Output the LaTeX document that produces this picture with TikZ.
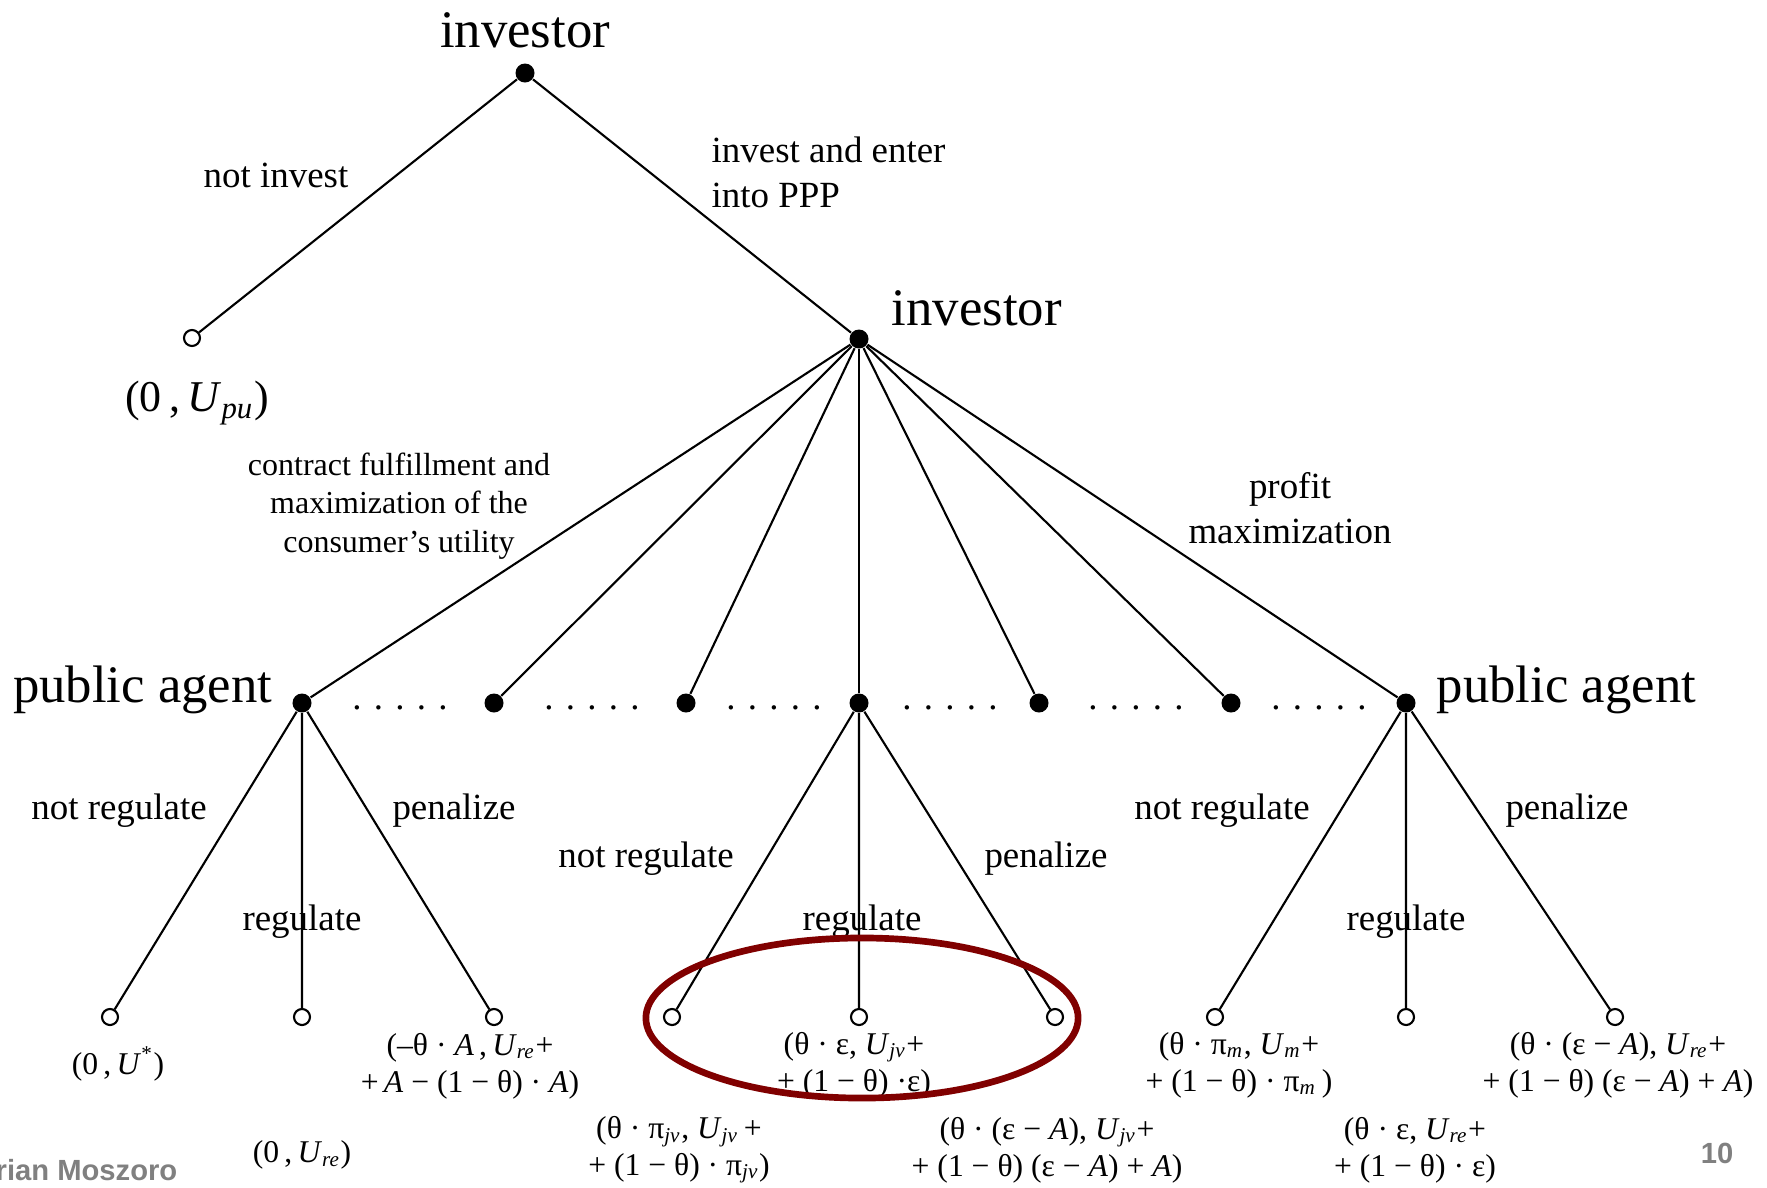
\documentclass[tikz,border=0pt]{standalone}
\usepackage{fontspec}
\setmainfont{Liberation Serif}
\newfontfamily\footfont{Liberation Sans}

\definecolor{ellred}{RGB}{128,0,0}
\definecolor{footgray}{RGB}{128,128,128}

\tikzset{
  decision/.style={circle, fill=black, inner sep=0pt, minimum size=0.19cm},
  terminal/.style={circle, draw=black, fill=white, line width=0.6pt, inner sep=0pt, minimum size=0.16cm},
  player/.style={font=\fontsize{15}{18}\selectfont, inner sep=0pt},
  move/.style={font=\fontsize{10.5}{12.8}\selectfont, align=center, inner sep=0pt},
  payoff/.style={font=\fontsize{9}{10.4}\selectfont, align=center, inner sep=0pt},
  branch/.style={line width=0.6pt},
}

\begin{document}
\begin{tikzpicture}[x=0.01cm, y=-0.01cm]
  \useasboundingbox (0,0) rectangle (1767,1187);

  % Draw the decision nodes of the investor
  \node[decision] (root) at (525,73) {};
  \node[decision] (ppp) at (859,339) {};
  \node[terminal] (noinv) at (192,338) {};

  % Draw the nodes of the public agent
  \foreach \i/\x in {1/302, 2/494, 3/686, 4/859, 5/1039, 6/1231, 7/1406}
    \node[decision] (pa\i) at (\x,703) {};

  % Draw the terminal nodes
  \foreach \name/\x in {l1/110, l2/302, l3/494, m1/672, m2/859, m3/1055, r1/1215, r2/1406, r3/1615}
    \node[terminal] (\name) at (\x,1017) {};

  % Draw the branches
  \draw[branch] (root) -- (noinv);
  \draw[branch] (root) -- (ppp);
  \foreach \i in {1,...,7}
    \draw[branch] (ppp) -- (pa\i);
  \draw[branch] (l1) -- (pa1) -- (l2);
  \draw[branch] (pa1) -- (l3);
  \draw[branch] (m1) -- (pa4) -- (m2);
  \draw[branch] (pa4) -- (m3);
  \draw[branch] (r1) -- (pa7) -- (r2);
  \draw[branch] (pa7) -- (r3);

  % Players
  \node[player] (invtop) at (525,30) {investor};
  \node[player, anchor=west] (invmid) at (891,308) {investor};
  \node[player, anchor=east] (publeft) at (273,690) {public agent};
  \node[player, anchor=west] (pubright) at (1436,690) {public agent};

  % Moves
  \node[move] (notinv) at (276,175) {not invest};
  \node[move, align=left, anchor=west] (enter) at (711,172) {invest and enter\\into PPP};
  \node[move, font=\fontsize{9.1}{11}\selectfont] (contract) at (399,506)
    {contract fulfillment and\\maximization of the\\consumer's utility};
  \node[move] (profit) at (1290,508) {profit\\maximization};
  \foreach \x in {400,592,774,950,1136,1319}
    \node[move] (gap\x) at (\x,708) {. . . . .};

  \node[move] (nr1) at (119,811) {not regulate};
  \node[move] (rg1) at (302,922) {regulate};
  \node[move] (pe1) at (454,811) {penalize};
  \node[move] (nr2) at (646,859) {not regulate};
  \node[move] (rg2) at (862,922) {regulate};
  \node[move] (pe2) at (1046,859) {penalize};
  \node[move] (nr3) at (1222,811) {not regulate};
  \node[move] (rg3) at (1406,922) {regulate};
  \node[move] (pe3) at (1567,811) {penalize};

  % Payoffs
  \node[payoff, font=\fontsize{12.5}{15}\selectfont] (pnoinv) at (197,403)
    {(0\,,\,\textit{U}\textsubscript{\textit{pu}})};
  \node[payoff] (pl1) at (118,1064) {(0\,,\,\textit{U}\textsuperscript{*})};
  \node[payoff] (pl2) at (302,1155) {(0\,,\,\textit{U}\textsubscript{\textit{re}})};
  \node[payoff] (pl3) at (470,1066)
    {(–θ · \textit{A}\,,\,\textit{U}\textsubscript{\textit{re}}+\\+\,\textit{A} − (1 − θ) · \textit{A})};
  \node[payoff] (pm1) at (679,1150)
    {(θ · π\textsubscript{\textit{jv}}, \textit{U}\textsubscript{\textit{jv}}\,+\\+ (1 − θ) · π\textsubscript{\textit{jv}})};
  \node[payoff] (pm2) at (854,1065)
    {(θ · ε, \textit{U}\textsubscript{\textit{jv}}+\\+ (1 − θ) ·ε)};
  \node[payoff] (pm3) at (1047,1150)
    {(θ · (ε − \textit{A}), \textit{U}\textsubscript{\textit{jv}}+\\+ (1 − θ) (ε − \textit{A}) + \textit{A})};
  \node[payoff] (pr1) at (1239,1065)
    {(θ · π\textsubscript{\textit{m}}, \textit{U}\textsubscript{\textit{m}}+\\+ (1 − θ) · π\textsubscript{\textit{m}}\,)};
  \node[payoff] (pr2) at (1415,1150)
    {(θ · ε, \textit{U}\textsubscript{\textit{re}}+\\+ (1 − θ) · ε)};
  \node[payoff] (pr3) at (1618,1065)
    {(θ · (ε − \textit{A}), \textit{U}\textsubscript{\textit{re}}+\\+ (1 − θ) (ε − \textit{A}) + \textit{A})};

  % Footer
  \node[anchor=east, inner sep=0pt, text=footgray, font=\footfont\bfseries\fontsize{8.3}{10}\selectfont]
    (author) at (178,1170) {rian Moszoro};
  \node[inner sep=0pt, text=footgray, font=\footfont\bfseries\fontsize{8.3}{10}\selectfont]
    (page) at (1717,1153) {10};

  % Mark the middle outcomes
  \draw[ellred, line width=1.9pt] (862,1018) ellipse [x radius=2.16cm, y radius=0.8cm];
\end{tikzpicture}
\end{document}
